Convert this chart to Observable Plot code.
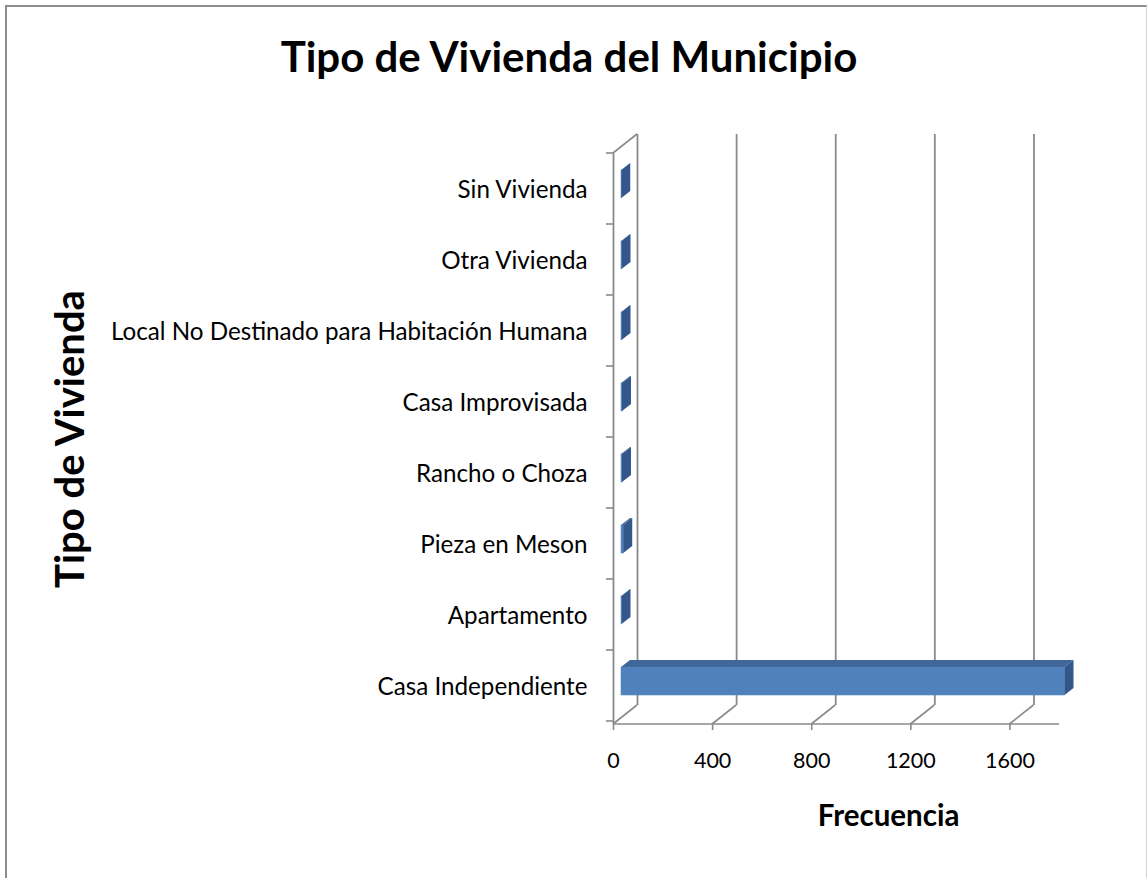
<!DOCTYPE html>
<html>
<head>
<meta charset="utf-8">
<script src="https://cdn.jsdelivr.net/npm/d3@7"></script>
<script src="https://cdn.jsdelivr.net/npm/@observablehq/plot@0.6"></script>
<style>
  html, body { margin: 0; padding: 0; background: #fff; }
  #wrap { position: relative; width: 1147px; height: 878px; overflow: hidden; background: #fff; }
  #border { position: absolute; left: 5px; top: 5px; width: 1142px; height: 900px; box-sizing: border-box;
            border-left: 2px solid #8d8d8d; border-top: 2px solid #8d8d8d; border-right: 1px solid #d4d4d4; pointer-events: none; }
  #title { width: 1138px; height: 107px; line-height: 112px; text-align: center; font-family: Lato, sans-serif;
           font-weight: bold; font-size: 42px; color: #000; white-space: nowrap; overflow: visible; }
  #chart svg [aria-label^="x-axis"] line, #chart svg [aria-label^="x-axis"] path { stroke: #8a8a8a; stroke-width: 1.6; }
  #chart svg [aria-label^="x-axis"] text { font-size: 21.5px; }
  #chart svg [aria-label^="y-axis"] text { font-size: 24.2px; }
</style>
</head>
<body>
<div id="wrap">
  <div id="title">Tipo de Vivienda del Municipio</div>
  <div id="chart"></div>
  <div id="border"></div>
</div>
<script>
const tipos = [
  "Sin Vivienda",
  "Otra Vivienda",
  "Local No Destinado para Habitación Humana",
  "Casa Improvisada",
  "Rancho o Choza",
  "Pieza en Meson",
  "Apartamento",
  "Casa Independiente"
];
const frecuencias = [1, 2, 2, 4, 4, 9, 2, 1790];
const xTicks = [0, 400, 800, 1200, 1600];
const xMax = 1800;
const tituloX = "Frecuencia";
const tituloY = "Tipo de Vivienda";

const data = tipos.map((t, i) => ({tipo: t, frecuencia: frecuencias[i]}));

// 3D projection offsets (pixels)
const wall = {dx: 24, dy: -19};
const barOff = {dx: 8, dy: -6};
const barDepth = {dx: 9, dy: -7};
const gridColor = "#8a8a8a";

const chart = Plot.plot({
  width: 1147,
  height: 771,
  marginTop: 46,
  marginBottom: 154,
  marginLeft: 613,
  marginRight: 88,
  style: {fontFamily: "Lato, sans-serif", fontSize: "21px", color: "#000", background: "transparent", overflow: "visible"},
  x: {domain: [0, xMax], ticks: xTicks, tickFormat: d => String(d), tickSize: 6, tickPadding: 22, label: null},
  y: {domain: tipos, paddingInner: 0.6, paddingOuter: 0.3, tickSize: 0, tickPadding: 26, label: null},
  marks: [
    Plot.ruleX(xTicks, {dx: wall.dx, dy: wall.dy, stroke: gridColor, strokeWidth: 1.8}),
    Plot.barX(data, {x: "frecuencia", y: "tipo", dx: barOff.dx, dy: barOff.dy, fill: "#4f81bd", stroke: "#5b8cc6", strokeWidth: 0.6}),
    Plot.ruleX([0], {stroke: gridColor, strokeWidth: 1.8}),
    Plot.text([tituloX], {text: d => d, frameAnchor: "bottom", textAnchor: "middle", lineAnchor: "middle", dx: 52, dy: 92, fontSize: 29.5, fontWeight: "bold", fill: "#000"}),
    Plot.text([tituloY], {text: d => d, frameAnchor: "left", textAnchor: "middle", lineAnchor: "middle", dx: -542, dy: 0, rotate: -90, fontSize: 40, fontWeight: "bold", fill: "#000"})
  ]
});
document.getElementById("chart").appendChild(chart);

// 3D decorations computed from Plot's own scales
const xs = chart.scale("x");
const ys = chart.scale("y");
const X = v => xs.apply(v);
const [yTop, yBot] = ys.range;
const step = ys.step;
const bw = ys.bandwidth;
const svg = d3.select(chart);
const x0 = X(0);

// floor diagonals and left wall top edge, behind the bars
const deco = svg.insert("g", '[aria-label="bar"]').attr("stroke", gridColor).attr("stroke-width", 1.6).attr("fill", "none");
xTicks.forEach(v => {
  deco.append("line").attr("x1", X(v)).attr("y1", yBot).attr("x2", X(v) + wall.dx).attr("y2", yBot + wall.dy);
});
deco.append("line").attr("x1", x0).attr("y1", yTop).attr("x2", x0 + wall.dx).attr("y2", yTop + wall.dy);
// front floor line
deco.append("line").attr("x1", x0).attr("y1", yBot).attr("x2", X(xMax)).attr("y2", yBot);
// category boundary ticks
d3.range(tipos.length + 1).forEach(i => {
  const yy = yTop + i * step;
  deco.append("line").attr("x1", x0 - 7).attr("y1", yy).attr("x2", x0).attr("y2", yy);
});

// bar top & side faces
const faces = svg.append("g");
data.forEach(d => {
  const xa = X(0) + barOff.dx, xb = X(d.frecuencia) + barOff.dx;
  const ya = ys.apply(d.tipo) + barOff.dy, yb = ya + bw;
  const pts = a => a.map(p => p.join(",")).join(" ");
  faces.append("polygon").attr("points", pts([[xa, ya], [xb, ya], [xb + barDepth.dx, ya + barDepth.dy], [xa + barDepth.dx, ya + barDepth.dy]]))
    .attr("fill", "#3f679a");
  faces.append("polygon").attr("points", pts([[xb, ya], [xb + barDepth.dx, ya + barDepth.dy], [xb + barDepth.dx, yb + barDepth.dy], [xb, yb]]))
    .attr("fill", "#33578a");
});
</script>
</body>
</html>
